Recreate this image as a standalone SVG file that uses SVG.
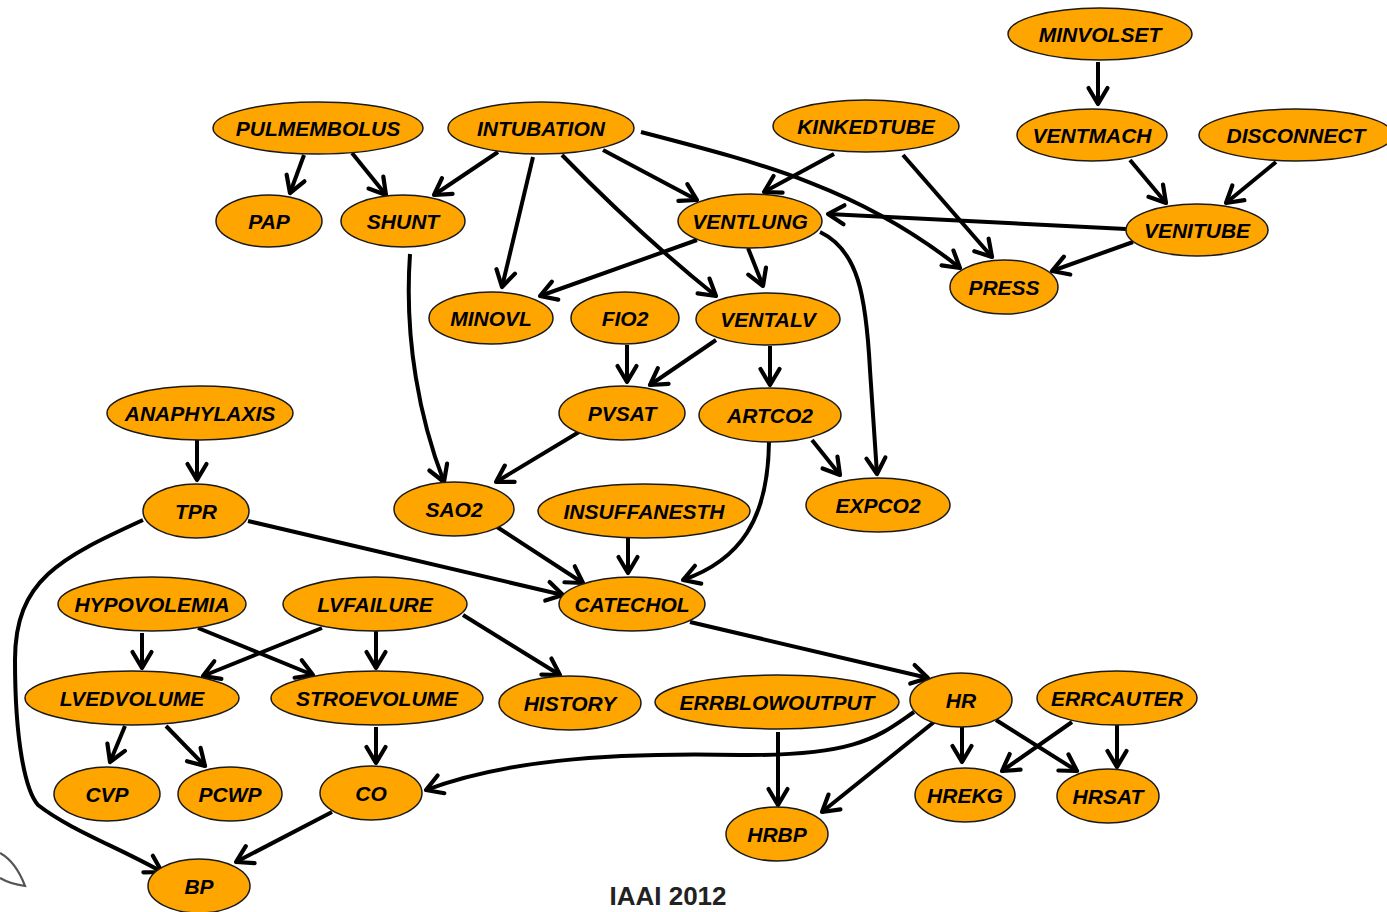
<svg xmlns="http://www.w3.org/2000/svg" width="1387" height="912" viewBox="0 0 1387 912">
  <style>
    .n ellipse { fill: #FFA500; stroke: #1a1a1a; stroke-width: 1.5; }
    .n text { font-family: "Liberation Sans", Arial, sans-serif; font-weight: bold; font-style: italic; font-size: 21px; fill: #000; text-anchor: middle; dominant-baseline: central; }
    #edges path { fill: none; stroke: #000; stroke-width: 4; marker-end: url(#ah); }
    .caption { font-family: "Liberation Sans", Arial, sans-serif; font-weight: bold; font-size: 26px; fill: #222; text-anchor: middle; }
  </style>
  <defs>
    <marker id="ah" viewBox="-20 -13 24 26" markerWidth="24" markerHeight="26" refX="0" refY="0" orient="auto" markerUnits="userSpaceOnUse">
      <path d="M-16,-9.5 L0,0 L-16,9.5" fill="none" stroke="#000" stroke-width="4.2" stroke-linejoin="round" stroke-linecap="round"/>
    </marker>
  </defs>
  <rect width="1387" height="912" fill="#fff"/>

  <!-- pen stroke in the lower-left corner -->
  <path d="M0,853 Q16,862 25,886 Q10,884 0,878" fill="none" stroke="#555" stroke-width="2.2"/>

  <g id="edges">
    <path d="M1098,62 L1098,104"/>
    <path d="M304,155 L290,193"/>
    <path d="M352,153 L386,195"/>
    <path d="M498,152 L434,195"/>
    <path d="M533,157 L502,287"/>
    <path d="M562,155 Q640,235 716,296"/>
    <path d="M603,150 L697,200"/>
    <path d="M641,132 C760,163 860,188 960,268"/>
    <path d="M834,154 L764,192"/>
    <path d="M903,155 L992,257"/>
    <path d="M1130,160 L1166,203"/>
    <path d="M1276,162 L1226,203"/>
    <path d="M1126,229 L828,214"/>
    <path d="M1133,242 L1052,271"/>
    <path d="M697,240 L540,296"/>
    <path d="M748,248 L763,286"/>
    <path d="M820,232 C858,250 866,295 870,370 L877,474"/>
    <path d="M627,345 L627,382"/>
    <path d="M716,340 L650,385"/>
    <path d="M770,346 L770,385"/>
    <path d="M410,254 C404,340 420,420 444,482"/>
    <path d="M579,432 L496,482"/>
    <path d="M812,440 L840,475"/>
    <path d="M769,442 C768,520 740,560 683,580"/>
    <path d="M197,440 L197,480"/>
    <path d="M248,521 L563,595"/>
    <path d="M143,520 C60,558 15,580 15,660 C15,740 25,790 38,805 C70,830 120,848 162,872"/>
    <path d="M497,527 L583,583"/>
    <path d="M628,538 L628,573"/>
    <path d="M690,622 L928,678"/>
    <path d="M142,633 L142,668"/>
    <path d="M198,628 L313,675"/>
    <path d="M322,628 L203,676"/>
    <path d="M376,631 L376,668"/>
    <path d="M463,615 L560,675"/>
    <path d="M125,726 L110,762"/>
    <path d="M166,726 L205,766"/>
    <path d="M376,727 L376,763"/>
    <path d="M332,812 L236,862"/>
    <path d="M778,732 L778,805"/>
    <path d="M914,712 C880,735 860,756 740,755 C600,752 500,762 426,790"/>
    <path d="M934,722 L822,812"/>
    <path d="M962,727 L962,762"/>
    <path d="M996,720 L1077,771"/>
    <path d="M1072,722 L1002,771"/>
    <path d="M1117,725 L1117,767"/>
  </g>

  <g id="MINVOLSET" class="n"><ellipse cx="1100" cy="34" rx="92" ry="26"/><text x="1100" y="34">MINVOLSET</text></g>
  <g id="PULMEMBOLUS" class="n"><ellipse cx="318" cy="128" rx="105" ry="26"/><text x="318" y="128">PULMEMBOLUS</text></g>
  <g id="INTUBATION" class="n"><ellipse cx="541" cy="128" rx="93" ry="26"/><text x="541" y="128">INTUBATION</text></g>
  <g id="KINKEDTUBE" class="n"><ellipse cx="866" cy="126" rx="93" ry="26"/><text x="866" y="126">KINKEDTUBE</text></g>
  <g id="VENTMACH" class="n"><ellipse cx="1092" cy="135" rx="75" ry="26"/><text x="1092" y="135">VENTMACH</text></g>
  <g id="DISCONNECT" class="n"><ellipse cx="1296" cy="135" rx="97" ry="26"/><text x="1296" y="135">DISCONNECT</text></g>
  <g id="PAP" class="n"><ellipse cx="269" cy="221" rx="53" ry="26"/><text x="269" y="221">PAP</text></g>
  <g id="SHUNT" class="n"><ellipse cx="403" cy="221" rx="62" ry="26"/><text x="403" y="221">SHUNT</text></g>
  <g id="VENTLUNG" class="n"><ellipse cx="750" cy="221" rx="72" ry="27"/><text x="750" y="221">VENTLUNG</text></g>
  <g id="VENITUBE" class="n"><ellipse cx="1197" cy="230" rx="71" ry="26"/><text x="1197" y="230">VENITUBE</text></g>
  <g id="PRESS" class="n"><ellipse cx="1004" cy="287" rx="54" ry="27"/><text x="1004" y="287">PRESS</text></g>
  <g id="MINOVL" class="n"><ellipse cx="491" cy="318" rx="62" ry="26"/><text x="491" y="318">MINOVL</text></g>
  <g id="FIO2" class="n"><ellipse cx="625" cy="318" rx="54" ry="26"/><text x="625" y="318">FIO2</text></g>
  <g id="VENTALV" class="n"><ellipse cx="768" cy="319" rx="72" ry="26"/><text x="768" y="319">VENTALV</text></g>
  <g id="ANAPHYLAXIS" class="n"><ellipse cx="200" cy="413" rx="93" ry="27"/><text x="200" y="413">ANAPHYLAXIS</text></g>
  <g id="PVSAT" class="n"><ellipse cx="622" cy="413" rx="63" ry="27"/><text x="622" y="413">PVSAT</text></g>
  <g id="ARTCO2" class="n"><ellipse cx="770" cy="415" rx="71" ry="27"/><text x="770" y="415">ARTCO2</text></g>
  <g id="TPR" class="n"><ellipse cx="196" cy="511" rx="53" ry="27"/><text x="196" y="511">TPR</text></g>
  <g id="SAO2" class="n"><ellipse cx="454" cy="509" rx="60" ry="27"/><text x="454" y="509">SAO2</text></g>
  <g id="INSUFFANESTH" class="n"><ellipse cx="644" cy="511" rx="106" ry="27"/><text x="644" y="511">INSUFFANESTH</text></g>
  <g id="EXPCO2" class="n"><ellipse cx="878" cy="505" rx="72" ry="27"/><text x="878" y="505">EXPCO2</text></g>
  <g id="HYPOVOLEMIA" class="n"><ellipse cx="152" cy="604" rx="94" ry="27"/><text x="152" y="604">HYPOVOLEMIA</text></g>
  <g id="LVFAILURE" class="n"><ellipse cx="375" cy="604" rx="92" ry="27"/><text x="375" y="604">LVFAILURE</text></g>
  <g id="CATECHOL" class="n"><ellipse cx="632" cy="604" rx="73" ry="27"/><text x="632" y="604">CATECHOL</text></g>
  <g id="LVEDVOLUME" class="n"><ellipse cx="132" cy="698" rx="107" ry="27"/><text x="132" y="698">LVEDVOLUME</text></g>
  <g id="STROEVOLUME" class="n"><ellipse cx="377" cy="698" rx="106" ry="27"/><text x="377" y="698">STROEVOLUME</text></g>
  <g id="HISTORY" class="n"><ellipse cx="570" cy="703" rx="71" ry="27"/><text x="570" y="703">HISTORY</text></g>
  <g id="ERRBLOWOUTPUT" class="n"><ellipse cx="777" cy="702" rx="122" ry="27"/><text x="777" y="702">ERRBLOWOUTPUT</text></g>
  <g id="HR" class="n"><ellipse cx="961" cy="700" rx="51" ry="27"/><text x="961" y="700">HR</text></g>
  <g id="ERRCAUTER" class="n"><ellipse cx="1117" cy="698" rx="80" ry="27"/><text x="1117" y="698">ERRCAUTER</text></g>
  <g id="CVP" class="n"><ellipse cx="107" cy="794" rx="53" ry="27"/><text x="107" y="794">CVP</text></g>
  <g id="PCWP" class="n"><ellipse cx="230" cy="794" rx="52" ry="27"/><text x="230" y="794">PCWP</text></g>
  <g id="CO" class="n"><ellipse cx="371" cy="793" rx="51" ry="27"/><text x="371" y="793">CO</text></g>
  <g id="HREKG" class="n"><ellipse cx="965" cy="795" rx="50" ry="27"/><text x="965" y="795">HREKG</text></g>
  <g id="HRSAT" class="n"><ellipse cx="1108" cy="796" rx="51" ry="27"/><text x="1108" y="796">HRSAT</text></g>
  <g id="HRBP" class="n"><ellipse cx="777" cy="834" rx="51" ry="27"/><text x="777" y="834">HRBP</text></g>
  <g id="BP" class="n"><ellipse cx="199" cy="886" rx="51" ry="27"/><text x="199" y="886">BP</text></g>

  <text class="caption" x="668" y="905">IAAI 2012</text>
</svg>
